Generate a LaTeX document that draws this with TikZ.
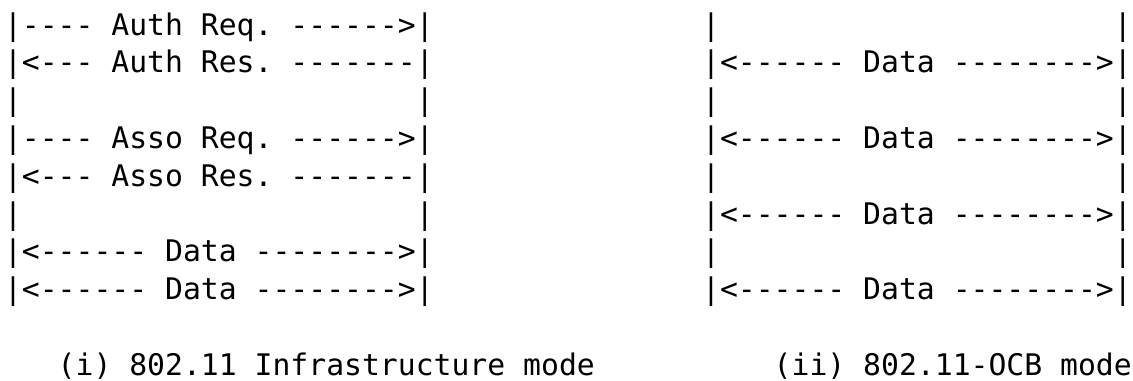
\documentclass[tikz,border=0pt]{standalone}
\usepackage{fontspec}
\setmonofont{DejaVu Sans Mono}
\newcommand{\gapbar}{|~~~~~~~~~~~~~~~~~~~~~~|}
\tikzset{
  ascii/.style={anchor=base west, inner sep=0pt, outer sep=0pt,
    font=\ttfamily\fontsize{14.87}{19}\selectfont\frenchspacing}
}
\begin{document}
\begin{tikzpicture}
\useasboundingbox (0,0) rectangle (566.5pt,-190pt);
% infrastructure mode
\node[ascii] (authreq) at (2pt,-17.5pt) {|---- Auth Req. ------>|};
\node[ascii] (authres) at (2pt,-36.4pt) {|<--- Auth Res. -------|};
\node[ascii] (gapa) at (2pt,-55.3pt) {\gapbar};
\node[ascii] (assoreq) at (2pt,-74.2pt) {|---- Asso Req. ------>|};
\node[ascii] (assores) at (2pt,-93.1pt) {|<--- Asso Res. -------|};
\node[ascii] (gapb) at (2pt,-112pt) {\gapbar};
\node[ascii] (dataa) at (2pt,-130.9pt) {|<------ Data -------->|};
\node[ascii] (datab) at (2pt,-149.8pt) {|<------ Data -------->|};
% ocb mode
\node[ascii] (ocbgapa) at (351.05pt,-17.5pt) {\gapbar};
\node[ascii] (ocbdataa) at (351.05pt,-36.4pt) {|<------ Data -------->|};
\node[ascii] (ocbgapb) at (351.05pt,-55.3pt) {\gapbar};
\node[ascii] (ocbdatab) at (351.05pt,-74.2pt) {|<------ Data -------->|};
\node[ascii] (ocbgapc) at (351.05pt,-93.1pt) {\gapbar};
\node[ascii] (ocbdatac) at (351.05pt,-112pt) {|<------ Data -------->|};
\node[ascii] (ocbgapd) at (351.05pt,-130.9pt) {\gapbar};
\node[ascii] (ocbdatad) at (351.05pt,-149.8pt) {|<------ Data -------->|};
% captions
\node[ascii] (capinfra) at (28.85pt,-187.5pt) {(i) 802.11 Infrastructure mode};
\node[ascii] (capocb) at (386.85pt,-187.5pt) {(ii) 802.11-OCB mode};
\end{tikzpicture}
\end{document}
